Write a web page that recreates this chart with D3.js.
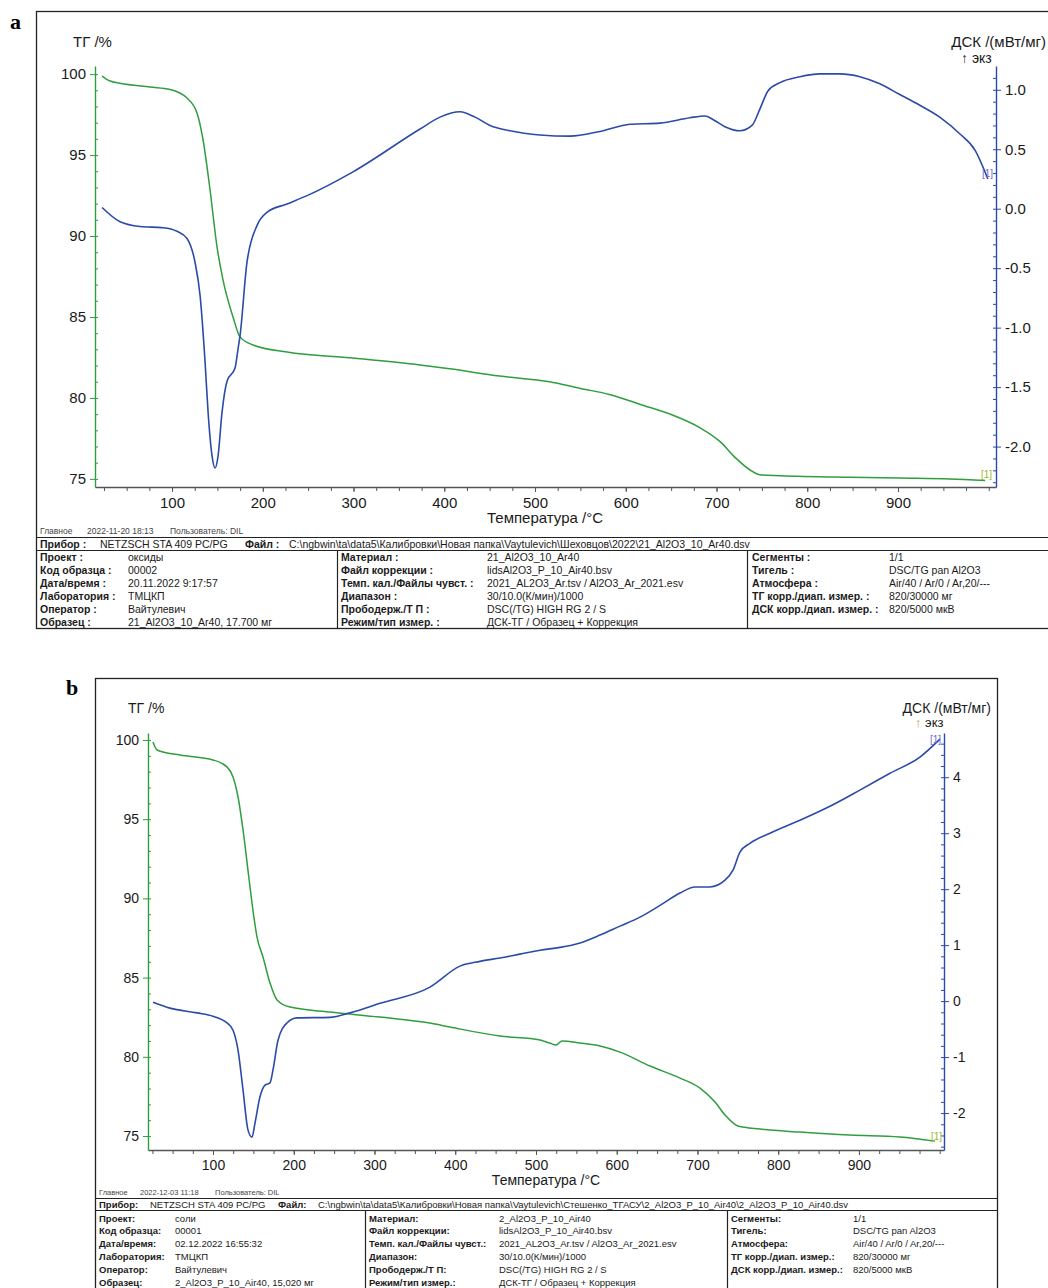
<!DOCTYPE html>
<html>
<head>
<meta charset="utf-8">
<script src="https://cdn.jsdelivr.net/npm/d3@7"></script>
<style>
  body { margin: 0; background: #fff; }
  svg { display: block; font-family: "Liberation Sans", Arial, sans-serif; }
</style>
</head>
<body>
<svg id="chart" width="1048" height="1288"></svg>
<script>
// ---- data ----
const tempTicks = [100, 200, 300, 400, 500, 600, 700, 800, 900];
const tgTicks = [75, 80, 85, 90, 95, 100];
const dscTicksA = [-2.0, -1.5, -1.0, -0.5, 0.0, 0.5, 1.0];
const dscTicksB = [-2, -1, 0, 1, 2, 3, 4];

// panel a, TG curve
const tgTempA = [22.9, 31.7, 42.7, 75.8, 97.8, 116.5, 127.5, 134.2, 141.9, 149.6, 156.2, 167.2, 174.9, 189.3, 226.7, 299.4, 373.3, 406, 461, 516, 549, 583, 616, 649, 682, 704, 721, 737, 748, 770, 847, 902, 957, 996];
const tgValA = [99.88, 99.57, 99.44, 99.2, 99.05, 98.52, 97.6, 95.93, 92.84, 89.32, 87.28, 85.0, 83.77, 83.27, 82.84, 82.47, 82.04, 81.8, 81.35, 81.0, 80.6, 80.2, 79.6, 79.0, 78.15, 77.3, 76.3, 75.55, 75.25, 75.2, 75.1, 75.05, 75.0, 74.9];
// panel a, DSC curve
const dscTempA = [22.9, 42.7, 64.7, 90.1, 105.5, 116.5, 125.3, 130.9, 136.4, 139.7, 144.1, 147.4, 150.7, 155.1, 160.6, 169.4, 172.7, 174.9, 182.6, 193.7, 204.7, 226.7, 248.8, 299.4, 373.3, 395.3, 417.4, 433.9, 450.4, 472.5, 505.5, 538.6, 571.6, 604.7, 637.7, 670.8, 687.3, 698.3, 709.3, 725.9, 739.1, 747.9, 756.7, 769.9, 792, 814, 836, 858, 880, 902, 924, 946, 968, 985, 999];
const dscValA = [0.01, -0.11, -0.15, -0.16, -0.19, -0.25, -0.45, -0.73, -1.29, -1.71, -2.08, -2.18, -2.08, -1.71, -1.45, -1.34, -1.18, -1.07, -0.45, -0.14, -0.03, 0.04, 0.11, 0.31, 0.67, 0.77, 0.815, 0.77, 0.70, 0.655, 0.62, 0.61, 0.65, 0.71, 0.72, 0.765, 0.78, 0.74, 0.69, 0.655, 0.70, 0.84, 0.99, 1.06, 1.11, 1.134, 1.134, 1.11, 1.05, 0.96, 0.87, 0.77, 0.63, 0.49, 0.25];

// panel b, TG curve
const tgTempB = [25.7, 30.7, 59.1, 100, 117.3, 124.8, 131, 137.2, 143.3, 148.3, 154.5, 161.9, 170.6, 179.3, 195.4, 244.9, 306.8, 368.7, 393.5, 455.4, 505, 517, 524.8, 532.2, 554.5, 579.3, 604, 641.2, 678.3, 703.1, 721.7, 734.1, 750.2, 777.4, 826.9, 888.8, 950.8, 994.1];
const tgValB = [99.87, 99.37, 99.05, 98.74, 98.3, 97.66, 96.4, 94.32, 91.79, 89.71, 87.56, 86.3, 84.66, 83.59, 83.14, 82.83, 82.51, 82.13, 81.88, 81.31, 81.06, 80.87, 80.75, 81.0, 80.87, 80.68, 80.3, 79.42, 78.66, 78.03, 77.15, 76.33, 75.63, 75.44, 75.25, 75.06, 74.94, 74.68];
// panel b, DSC curve
const dscTempB = [25.7, 46.7, 80.2, 100, 117.3, 124.8, 131, 137.2, 143.3, 148.3, 152, 158.2, 164.4, 170.6, 174.3, 180.5, 191.6, 204, 244.9, 269.7, 306.8, 368.7, 405.9, 430.7, 455.4, 480.2, 505, 529.7, 554.5, 579.3, 604, 628.8, 653.6, 678.3, 696.9, 715.5, 734.1, 744, 752.6, 765, 789.8, 826.9, 864, 901.2, 938.4, 975.5, 1000.3];
const dscValB = [-0.02, -0.125, -0.21, -0.27, -0.39, -0.52, -0.875, -1.59, -2.30, -2.43, -2.18, -1.71, -1.5, -1.46, -1.23, -0.70, -0.39, -0.30, -0.29, -0.21, -0.04, 0.25, 0.625, 0.71, 0.77, 0.84, 0.91, 0.96, 1.04, 1.18, 1.34, 1.5, 1.71, 1.93, 2.04, 2.04, 2.16, 2.34, 2.66, 2.82, 3.0, 3.23, 3.48, 3.77, 4.07, 4.36, 4.68];

// info tables
const infoLeftLabels = ['Проект :', 'Код образца :', 'Дата/время :', 'Лаборатория :', 'Оператор :', 'Образец :'];
const infoLeftA = ['оксиды', '00002', '20.11.2022 9:17:57', 'ТМЦКП', 'Вайтулевич', '21_Al2O3_10_Ar40, 17.700 мг'];
const infoLeftB = ['соли', '00001', '02.12.2022 16:55:32', 'ТМЦКП', 'Вайтулевич', '2_Al2O3_P_10_Air40, 15,020 мг'];
const infoMidLabels = ['Материал :', 'Файл коррекции :', 'Темп. кал./Файлы чувст. :', 'Диапазон :', 'Прободерж./Т П :', 'Режим/тип измер. :'];
const infoMidA = ['21_Al2O3_10_Ar40', 'lidsAl2O3_P_10_Air40.bsv', '2021_AL2O3_Ar.tsv / Al2O3_Ar_2021.esv', '30/10.0(К/мин)/1000', 'DSC(/TG) HIGH RG 2 / S', 'ДСК-ТГ / Образец + Коррекция'];
const infoMidB = ['2_Al2O3_P_10_Air40', 'lidsAl2O3_P_10_Air40.bsv', '2021_AL2O3_Ar.tsv / Al2O3_Ar_2021.esv', '30/10.0(К/мин)/1000', 'DSC(/TG) HIGH RG 2 / S', 'ДСК-ТГ / Образец + Коррекция'];
const infoRightLabels = ['Сегменты :', 'Тигель :', 'Атмосфера :', 'ТГ корр./диап. измер. :', 'ДСК корр./диап. измер. :'];
const infoRight = ['1/1', 'DSC/TG pan Al2O3', 'Air/40 / Ar/0 / Ar,20/---', '820/30000 мг', '820/5000 мкВ'];
const headerA = ['Главное', '2022-11-20 18:13', 'Пользователь: DIL'];
const headerB = ['Главное', '2022-12-03 11:18', 'Пользователь: DIL'];
const deviceA = ['Прибор :', 'NETZSCH STA 409 PC/PG', 'Файл :', 'C:\\ngbwin\\ta\\data5\\Калибровки\\Новая папка\\Vaytulevich\\Шеховцов\\2022\\21_Al2O3_10_Ar40.dsv'];
const deviceB = ['Прибор:', 'NETZSCH STA 409 PC/PG', 'Файл:', 'C:\\ngbwin\\ta\\data5\\Калибровки\\Новая папка\\Vaytulevich\\Стешенко_ТГАСУ\\2_Al2O3_P_10_Air40\\2_Al2O3_P_10_Air40.dsv'];

// ---- config ----
const color = {
  green: '#2f9e3f',
  blue: '#2c4aa8',
  text: '#1a1a1a',
  frame: '#222',
  axis: '#555',
};

const panels = [
  {
    letter: 'a', letterPos: [10, 29],
    frame: { x: 36, y: 11, w: 1030, h: 617 },
    plot: { left: 95, right: 996, top: 66, bottom: 487 },
    tempDomain: [15.1, 1008], tgDomain: [74.5, 100.5], dscDomain: [-2.34, 1.2],
    dscTicks: dscTicksA, dscMinor: 0.1, dscFormat: d => d.toFixed(1),
    tickFont: 15, titleFont: 15,
    tg: [tgTempA, tgValA], dsc: [dscTempA, dscValA],
    tgTitle: [73, 47], dscTitle: [1046, 47], exo: [961, 63], exoArrow: '#333',
    xTitle: [545, 523],
    endMarks: { blue: [982, 177], green: [981, 478] },
    info: {
      font: 10.5, header: headerA, headerX: [40, 87, 170], headerY: 534,
      line1: 537, device: deviceA, deviceX: [40, 100, 245, 289], deviceY: 547.5, line2: 550,
      rowY: 561, rowStep: 13, bottom: 628, dividers: [337, 747],
      cols: [[40, 128, infoLeftLabels, infoLeftA], [341, 487, infoMidLabels, infoMidA], [752, 889, infoRightLabels, infoRight]],
      left: 36, right: 1066,
    },
  },
  {
    letter: 'b', letterPos: [66, 695],
    frame: { x: 95, y: 678, w: 902, h: 640 },
    plot: { left: 148, right: 944, top: 733, bottom: 1150 },
    tempDomain: [19.5, 1005.3], tgDomain: [74.12, 100.44], dscDomain: [-2.66, 4.79],
    dscTicks: dscTicksB, dscMinor: 0.2, dscFormat: d => String(d),
    tickFont: 14, titleFont: 14,
    tg: [tgTempB, tgValB], dsc: [dscTempB, dscValB],
    tgTitle: [128, 713], dscTitle: [991, 713], exo: [915, 727], exoArrow: '#c89a40',
    xTitle: [546, 1185],
    endMarks: { blue: [930, 743], green: [931, 1140] },
    info: {
      font: 9.5, header: headerB, headerX: [99, 140, 215], headerY: 1195,
      line1: 1198, device: deviceB, deviceX: [99, 150, 278, 318], deviceY: 1207.5, line2: 1210,
      rowY: 1221.5, rowStep: 12.8, bottom: 1300, dividers: [365, 727],
      cols: [[99, 175, infoLeftLabels, infoLeftB], [369, 499, infoMidLabels, infoMidB], [731, 853, infoRightLabels, infoRight]],
      left: 95, right: 997, tight: true,
    },
  },
];

const svg = d3.select('#chart');
svg.append('rect').attr('width', 1048).attr('height', 1288).attr('fill', '#fff');

// style an axis group: colored line and ticks, dark labels
function styleAxis(g, stroke, font) {
  g.select('.domain').attr('stroke', stroke).attr('stroke-width', 1.4);
  g.selectAll('.tick line').attr('stroke', stroke).attr('stroke-width', 1);
  g.selectAll('.tick text')
    .attr('fill', color.text)
    .style('font-size', font + 'px')
    .style('font-family', '"Liberation Sans", Arial, sans-serif');
}

function drawPanel(p) {
  const g = svg.append('g');

  // frame + panel letter
  g.append('rect')
    .attr('x', p.frame.x + 0.5).attr('y', p.frame.y + 0.5)
    .attr('width', p.frame.w).attr('height', p.frame.h)
    .attr('fill', 'none').attr('stroke', color.frame).attr('stroke-width', 1.3);
  g.append('text')
    .attr('x', p.letterPos[0]).attr('y', p.letterPos[1])
    .style('font-family', '"Liberation Serif", "DejaVu Serif", serif')
    .style('font-weight', 'bold').style('font-size', '22px')
    .text(p.letter);

  const x = d3.scaleLinear().domain(p.tempDomain).range([p.plot.left, p.plot.right]);
  const yTg = d3.scaleLinear().domain(p.tgDomain).range([p.plot.bottom, p.plot.top]);
  const yDsc = d3.scaleLinear().domain(p.dscDomain).range([p.plot.bottom, p.plot.top]);

  // temperature axis
  g.append('g')
    .attr('transform', `translate(0,${p.plot.bottom})`)
    .call(d3.axisBottom(x).tickValues(d3.range(25, 1001, 25)).tickSize(4).tickSizeOuter(0).tickFormat(''))
    .call(a => styleAxis(a, color.axis, p.tickFont));
  g.append('g')
    .attr('transform', `translate(0,${p.plot.bottom})`)
    .call(d3.axisBottom(x).tickValues(tempTicks).tickSize(5).tickSizeOuter(0).tickPadding(5))
    .call(a => styleAxis(a, color.axis, p.tickFont))
    .call(a => a.select('.domain').remove());

  // TG axis (left, green)
  g.append('g')
    .attr('transform', `translate(${p.plot.left},0)`)
    .call(d3.axisRight(yTg).tickValues(d3.range(75, 101, 1)).tickSize(3).tickSizeOuter(0).tickFormat(''))
    .call(a => styleAxis(a, color.green, p.tickFont))
    .call(a => a.select('.domain').remove());
  g.append('g')
    .attr('transform', `translate(${p.plot.left},0)`)
    .call(d3.axisLeft(yTg).tickValues(tgTicks).tickSize(5).tickSizeOuter(0).tickPadding(4))
    .call(a => styleAxis(a, color.green, p.tickFont));

  // DSC axis (right, blue)
  const lo = Math.ceil(p.dscDomain[0] / p.dscMinor), hi = Math.floor(p.dscDomain[1] / p.dscMinor);
  g.append('g')
    .attr('transform', `translate(${p.plot.right},0)`)
    .call(d3.axisLeft(yDsc).tickValues(d3.range(lo, hi + 1).map(i => i * p.dscMinor)).tickSize(3).tickSizeOuter(0).tickFormat(''))
    .call(a => styleAxis(a, color.blue, p.tickFont))
    .call(a => a.select('.domain').remove());
  g.append('g')
    .attr('transform', `translate(${p.plot.right},0)`)
    .call(d3.axisRight(yDsc).tickValues(p.dscTicks).tickFormat(p.dscFormat).tickSize(5).tickSizeOuter(0).tickPadding(4))
    .call(a => styleAxis(a, color.blue, p.tickFont));

  // curves
  const tgLine = d3.line().x(d => x(d[0])).y(d => yTg(d[1])).curve(d3.curveMonotoneX);
  const dscLine = d3.line().x(d => x(d[0])).y(d => yDsc(d[1])).curve(d3.curveMonotoneX);
  g.append('path')
    .datum(d3.zip(p.tg[0], p.tg[1]))
    .attr('d', tgLine)
    .attr('fill', 'none').attr('stroke', color.green).attr('stroke-width', 1.5);
  g.append('path')
    .datum(d3.zip(p.dsc[0], p.dsc[1]))
    .attr('d', dscLine)
    .attr('fill', 'none').attr('stroke', color.blue).attr('stroke-width', 1.6);

  // segment markers at curve ends
  g.append('text').attr('x', p.endMarks.blue[0]).attr('y', p.endMarks.blue[1])
    .attr('fill', '#6a6ad0').style('font-size', '10px').text('[1]');
  g.append('text').attr('x', p.endMarks.green[0]).attr('y', p.endMarks.green[1])
    .attr('fill', '#9ab830').style('font-size', '10px').text('[1]');

  // titles
  g.append('text').attr('x', p.tgTitle[0]).attr('y', p.tgTitle[1])
    .attr('fill', color.text).style('font-size', p.titleFont + 'px').text('ТГ /%');
  g.append('text').attr('x', p.dscTitle[0]).attr('y', p.dscTitle[1])
    .attr('text-anchor', 'end')
    .attr('fill', color.text).style('font-size', p.titleFont + 'px').text('ДСК /(мВт/мг)');
  const exo = g.append('text').attr('x', p.exo[0]).attr('y', p.exo[1])
    .attr('fill', color.text).style('font-size', (p.titleFont - 1) + 'px');
  exo.append('tspan').attr('fill', p.exoArrow).text('↑');
  exo.append('tspan').text(' экз');
  g.append('text').attr('x', p.xTitle[0]).attr('y', p.xTitle[1])
    .attr('text-anchor', 'middle')
    .attr('fill', color.text).style('font-size', p.titleFont + 'px').text('Температура /°C');

  drawInfo(g, p.info);
}

// measurement report below each plot
function drawInfo(g, info) {
  const t = g.append('g').style('font-size', info.font + 'px').attr('fill', color.text);
  const fixLabel = s => info.tight ? s.replace(' :', ':') : s;

  info.header.forEach((s, i) => {
    t.append('text').attr('x', info.headerX[i]).attr('y', info.headerY)
      .attr('fill', '#444').style('font-size', (info.font - 2) + 'px').text(s);
  });

  [info.line1, info.line2].forEach(yy => {
    t.append('line').attr('x1', info.left).attr('x2', info.right)
      .attr('y1', yy + 0.5).attr('y2', yy + 0.5)
      .attr('stroke', color.frame).attr('stroke-width', 1.2);
  });

  info.device.forEach((s, i) => {
    t.append('text').attr('x', info.deviceX[i]).attr('y', info.deviceY)
      .style('font-weight', i % 2 === 0 ? 'bold' : 'normal').text(s);
  });

  info.dividers.forEach(xx => {
    t.append('line').attr('x1', xx + 0.5).attr('x2', xx + 0.5)
      .attr('y1', info.line2).attr('y2', info.bottom)
      .attr('stroke', color.frame).attr('stroke-width', 1.2);
  });

  info.cols.forEach(([lx, vx, labels, values]) => {
    labels.forEach((lab, i) => {
      const yy = info.rowY + i * info.rowStep;
      t.append('text').attr('x', lx).attr('y', yy).style('font-weight', 'bold').text(fixLabel(lab));
      t.append('text').attr('x', vx).attr('y', yy).text(values[i]);
    });
  });
}

panels.forEach(drawPanel);
</script>
</body>
</html>
